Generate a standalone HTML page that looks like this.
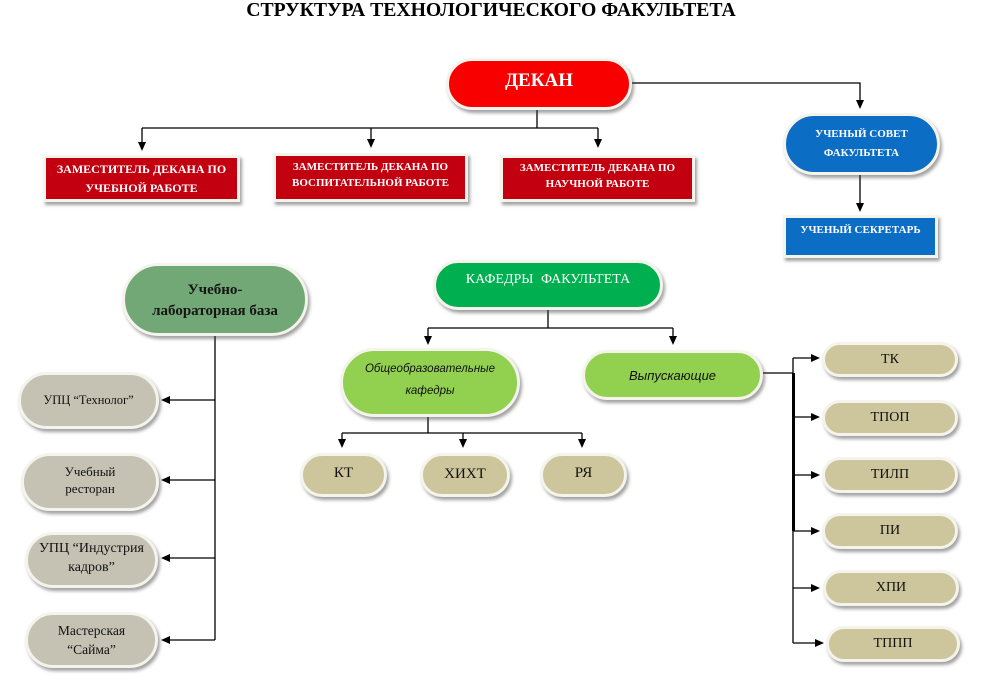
<!DOCTYPE html>
<html><head><meta charset="utf-8">
<style>
html,body{margin:0;padding:0;background:#fff;}
body{width:982px;height:699px;position:relative;overflow:hidden;font-family:"Liberation Serif","DejaVu Serif",serif;}
.n{position:absolute;box-sizing:border-box;display:flex;flex-direction:column;align-items:center;justify-content:center;text-align:center;border:3px solid #f4f3ec;box-shadow:2px 3px 3px rgba(70,70,70,0.5);}
.pill{border-radius:40px;}
.red{background:#c3000f;color:#fff;font-weight:bold;}
.blue{background:#0b6dc4;color:#fff;font-weight:bold;}
.kh{background:#cdc59b;color:#111;font-size:14px;}
.gr{background:#c5c2b3;color:#111;}
.lg{background:#92d050;color:#111;font-family:"Liberation Sans",sans-serif;font-style:italic;}
svg{position:absolute;left:0;top:0;}
</style></head><body>
<div style="position:absolute;left:0;top:0;width:982px;text-align:center;font-weight:bold;font-size:19.7px;line-height:20px;color:#000;">СТРУКТУРА ТЕХНОЛОГИЧЕСКОГО ФАКУЛЬТЕТА</div>

<svg width="982" height="699" viewBox="0 0 982 699">
<g stroke="#000" stroke-width="1.3" fill="none">
<line x1="537" y1="110" x2="537" y2="128"/>
<line x1="142" y1="128" x2="598" y2="128"/>
<line x1="142" y1="128" x2="142" y2="144"/>
<line x1="371" y1="128" x2="371" y2="142"/>
<line x1="598" y1="128" x2="598" y2="142"/>
<polyline points="632,83 860,83 860,103"/>
<line x1="860" y1="175" x2="860" y2="206"/>
<line x1="215" y1="336" x2="215" y2="640"/>
<line x1="170" y1="400" x2="215" y2="400"/>
<line x1="170" y1="480" x2="215" y2="480"/>
<line x1="170" y1="558" x2="215" y2="558"/>
<line x1="170" y1="640" x2="215" y2="640"/>
<line x1="548" y1="310" x2="548" y2="328"/>
<line x1="428" y1="328" x2="673" y2="328"/>
<line x1="428" y1="328" x2="428" y2="338"/>
<line x1="673" y1="328" x2="673" y2="338"/>
<line x1="428" y1="417" x2="428" y2="433"/>
<line x1="342" y1="433" x2="582" y2="433"/>
<line x1="342" y1="433" x2="342" y2="441"/>
<line x1="463" y1="433" x2="463" y2="441"/>
<line x1="582" y1="433" x2="582" y2="441"/>
<line x1="763" y1="373" x2="793" y2="373"/>
<line x1="793" y1="358" x2="793" y2="643"/>
<line x1="793" y1="358" x2="812" y2="358"/>
<line x1="793" y1="417" x2="812" y2="417"/>
<line x1="793" y1="475" x2="812" y2="475"/>
<line x1="793" y1="531" x2="812" y2="531"/>
<line x1="793" y1="588" x2="812" y2="588"/>
<line x1="793" y1="643" x2="816" y2="643"/>
</g>
<line x1="793.5" y1="373" x2="793.5" y2="531" stroke="#000" stroke-width="3"/>
<g fill="#000">
<polygon points="138,142 146,142 142,151"/>
<polygon points="367,139 375,139 371,148"/>
<polygon points="594,139 602,139 598,148"/>
<polygon points="856,100 864,100 860,109"/>
<polygon points="856,203 864,203 860,212"/>
<polygon points="161,400 170,396 170,404"/>
<polygon points="161,480 170,476 170,484"/>
<polygon points="161,558 170,554 170,562"/>
<polygon points="161,640 170,636 170,644"/>
<polygon points="424,336 432,336 428,345"/>
<polygon points="669,336 677,336 673,345"/>
<polygon points="338,439 346,439 342,448"/>
<polygon points="459,439 467,439 463,448"/>
<polygon points="578,439 586,439 582,448"/>
<polygon points="820,358 811,354 811,362"/>
<polygon points="820,417 811,413 811,421"/>
<polygon points="820,475 811,471 811,479"/>
<polygon points="820,531 811,527 811,535"/>
<polygon points="820,588 811,584 811,592"/>
<polygon points="824,643 815,639 815,647"/>
</g>
</svg>

<div class="n pill" style="left:446px;top:58px;width:186px;height:52px;background:#f80000;color:#fff;font-weight:bold;font-size:19px;padding-bottom:6px;">ДЕКАН</div>

<div class="n red" style="left:43px;top:155px;width:197px;height:47px;font-size:12px;line-height:19px;">ЗАМЕСТИТЕЛЬ ДЕКАНА ПО<br>УЧЕБНОЙ РАБОТЕ</div>
<div class="n red" style="left:273px;top:153px;width:195px;height:49px;font-size:11px;line-height:16px;padding-bottom:5px;">ЗАМЕСТИТЕЛЬ ДЕКАНА ПО<br>ВОСПИТАТЕЛЬНОЙ РАБОТЕ</div>
<div class="n red" style="left:500px;top:155px;width:195px;height:47px;font-size:11px;line-height:16px;padding-bottom:5px;">ЗАМЕСТИТЕЛЬ ДЕКАНА ПО<br>НАУЧНОЙ РАБОТЕ</div>

<div class="n pill blue" style="left:783px;top:113px;width:157px;height:62px;font-size:11px;line-height:19px;">УЧЕНЫЙ СОВЕТ<br>ФАКУЛЬТЕТА</div>
<div class="n blue" style="left:783px;top:215px;width:155px;height:43px;font-size:11px;justify-content:flex-start;padding-top:6px;">УЧЕНЫЙ СЕКРЕТАРЬ</div>

<div class="n pill" style="left:122px;top:263px;width:186px;height:73px;background:#72a876;color:#151515;font-weight:bold;font-size:15px;line-height:21px;padding-top:2px;">Учебно-<br>лабораторная база</div>
<div class="n pill gr" style="left:18px;top:372px;width:141px;height:57px;font-size:12.5px;">УПЦ “Технолог”</div>
<div class="n pill gr" style="left:21px;top:453px;width:138px;height:58px;font-size:13px;line-height:17px;padding-bottom:4px;">Учебный<br>ресторан</div>
<div class="n pill gr" style="left:25px;top:532px;width:133px;height:56px;font-size:14px;line-height:19px;padding-bottom:4px;">УПЦ “Индустрия<br>кадров”</div>
<div class="n pill gr" style="left:25px;top:612px;width:133px;height:56px;font-size:13.5px;line-height:19px;">Мастерская<br>“Сайма”</div>

<div class="n pill" style="left:433px;top:260px;width:230px;height:50px;background:#00b050;color:#fff;font-size:14px;padding-bottom:10px;word-spacing:4px;">КАФЕДРЫ  ФАКУЛЬТЕТА</div>
<div class="n pill lg" style="left:340px;top:348px;width:180px;height:69px;font-size:11.5px;line-height:22px;padding-bottom:6px;">Общеобразовательные<br>кафедры</div>
<div class="n pill lg" style="left:582px;top:350px;width:181px;height:50px;font-size:13px;">Выпускающие</div>

<div class="n pill kh" style="left:300px;top:453px;width:87px;height:44px;font-size:15px;padding-bottom:4px;">КТ</div>
<div class="n pill kh" style="left:420px;top:453px;width:90px;height:44px;font-size:15px;padding-bottom:2px;">ХИХТ</div>
<div class="n pill kh" style="left:540px;top:453px;width:87px;height:44px;font-size:15px;padding-bottom:4px;">РЯ</div>

<div class="n pill kh" style="left:822px;top:342px;width:136px;height:35px;">ТК</div>
<div class="n pill kh" style="left:822px;top:400px;width:136px;height:36px;">ТПОП</div>
<div class="n pill kh" style="left:822px;top:457px;width:136px;height:36px;">ТИЛП</div>
<div class="n pill kh" style="left:822px;top:513px;width:136px;height:36px;">ПИ</div>
<div class="n pill kh" style="left:823px;top:570px;width:136px;height:36px;">ХПИ</div>
<div class="n pill kh" style="left:826px;top:626px;width:134px;height:36px;">ТППП</div>
</body></html>
